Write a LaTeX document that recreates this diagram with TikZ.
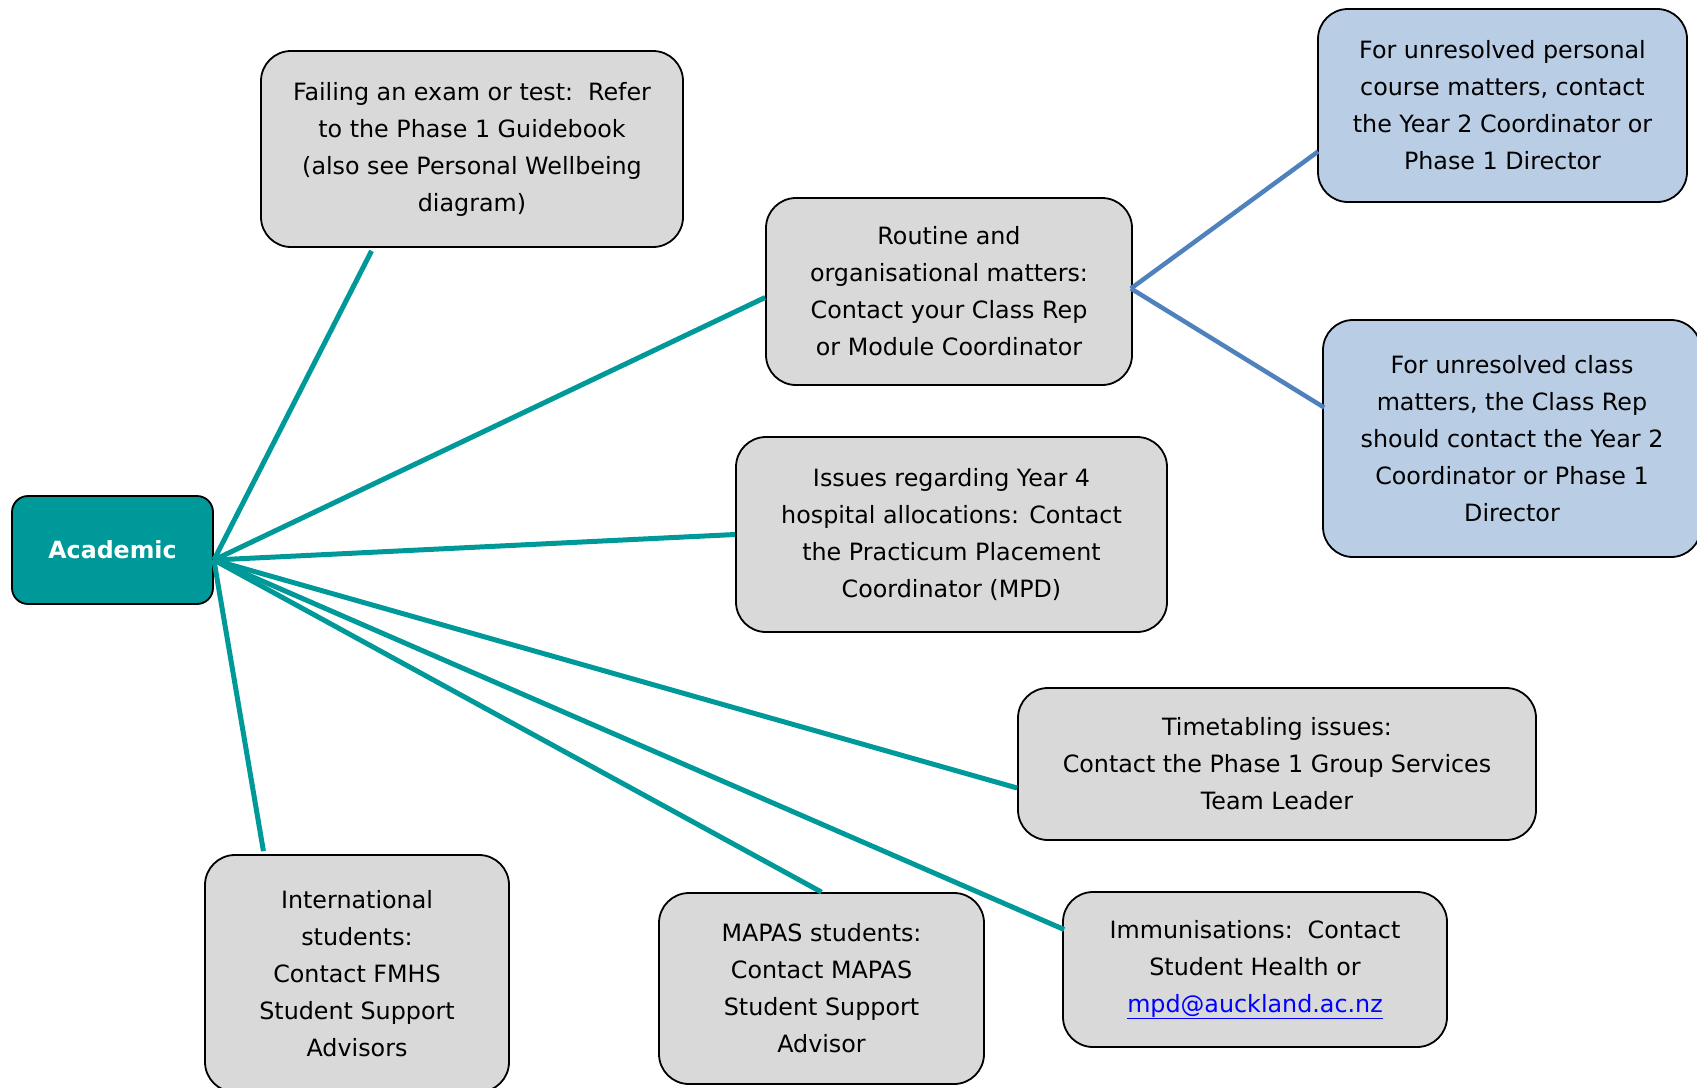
\documentclass[tikz,border=0pt]{standalone}
\usepackage{fontspec}
\setmainfont{DejaVu Sans}
\usetikzlibrary{calc}
\definecolor{teal1}{RGB}{0,153,153}
\definecolor{grayfill}{RGB}{217,217,217}
\definecolor{bluefill}{RGB}{185,205,229}
\definecolor{blueline}{RGB}{79,129,189}
\definecolor{linkblue}{RGB}{0,0,255}
\tikzset{
  box/.style={draw=black, line width=1.8pt, rounded corners=30pt, align=center,
    inner sep=0pt, font=\fontsize{23.8}{37}\selectfont},
  graybox/.style={box, fill=grayfill},
  bluebox/.style={box, fill=bluefill},
  hubbox/.style={box, fill=teal1, rounded corners=16pt, text=white,
    font=\fontsize{23.7}{37}\selectfont\bfseries},
  tealline/.style={draw=teal1, line width=5pt},
  blueconn/.style={draw=blueline, line width=4.5pt},
}
\begin{document}
\begin{tikzpicture}[x=1pt,y=-1pt]
\useasboundingbox (0,0) rectangle (1697,1087);
% nodes
\node[hubbox, minimum width=201pt, minimum height=108pt] (acad) at (112.5,550) {Academic};
\node[graybox, minimum width=422pt, minimum height=196pt] (fail) at (472,149)
  {Failing an exam or test:\hspace{0.2em} Refer\\to the Phase 1 Guidebook\\(also see Personal Wellbeing\\diagram)};
\node[graybox, minimum width=366pt, minimum height=187pt] (rout) at (949,291.5)
  {Routine and\\organisational matters:\\Contact your Class Rep\\or Module Coordinator};
\node[bluebox, minimum width=369pt, minimum height=193pt] (blueA) at (1502.5,105.5)
  {For unresolved personal\\course matters, contact\\the Year 2 Coordinator or\\Phase 1 Director};
\node[bluebox, minimum width=378pt, minimum height=237pt] (blueB) at (1512,438.5)
  {For unresolved class\\matters, the Class Rep\\should contact the Year 2\\Coordinator or Phase 1\\Director};
\node[graybox, minimum width=431pt, minimum height=195pt] (issue) at (951.5,534.5)
  {Issues regarding Year 4\\hospital allocations: Contact\\the Practicum Placement\\Coordinator (MPD)};
\node[graybox, minimum width=518pt, minimum height=152pt] (time) at (1277,764)
  {Timetabling issues:\\Contact the Phase 1 Group Services\\Team Leader};
\node[graybox, minimum width=384pt, minimum height=155pt] (immun) at (1255,969.5)
  {Immunisations:\hspace{0.2em} Contact\\Student Health or\\\textcolor{linkblue}{\underline{mpd@auckland.ac.nz}}};
\node[graybox, minimum width=325pt, minimum height=191pt] (mapas) at (821.5,988.5)
  {MAPAS students:\\Contact MAPAS\\Student Support\\Advisor};
\node[graybox, minimum width=304pt, minimum height=237pt] (intl) at (357,973.5)
  {International\\students:\\Contact FMHS\\Student Support\\Advisors};
% connector points
\coordinate (hub) at ($(acad.east)+(0,10)$);
\coordinate (failend) at ($(fail.south west)!0.263!(fail.south east)+(0,3)$);
\coordinate (intlend) at ($(intl.north west)!0.194!(intl.north east)+(0,-3)$);
% connectors
\draw[tealline] (hub) -- (failend);
\draw[tealline] (hub) -- ($(rout.west)+(0,6)$);
\draw[tealline] (hub) -- (issue.west);
\draw[tealline] (hub) -- ($(time.west)+(0,24)$);
\draw[tealline] (hub) -- ($(immun.west)+(2,-40)$);
\draw[tealline] (hub) -- (mapas.north);
\draw[tealline] (hub) -- (intlend);
\draw[blueconn] ($(rout.east)+(-2,-3)$) -- ($(blueA.west)+(1,46)$);
\draw[blueconn] ($(rout.east)+(-2,-3)$) -- ($(blueB.west)+(2,-31)$);
\end{tikzpicture}
\end{document}
